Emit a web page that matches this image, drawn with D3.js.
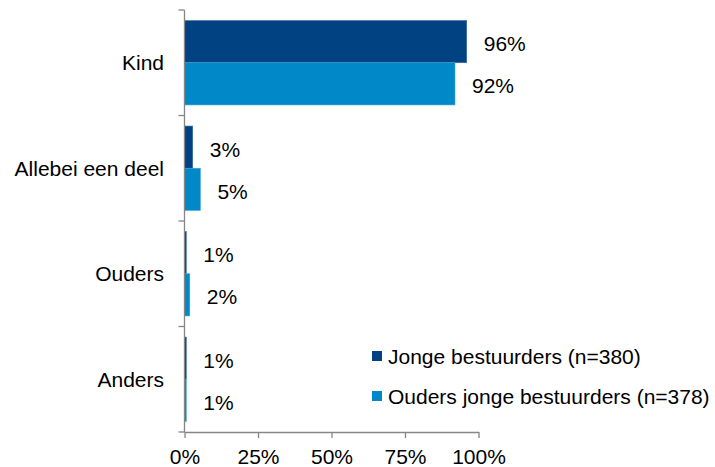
<!DOCTYPE html>
<html>
<head>
<meta charset="utf-8">
<script src="https://cdn.jsdelivr.net/npm/d3@7"></script>
<style>
  body { margin: 0; background: #fff; }
  svg { display: block; font-family: "Liberation Sans", Arial, sans-serif; }
</style>
</head>
<body>
<svg width="715" height="467"></svg>
<script>
'use strict'

const categories = ['Kind', 'Allebei een deel', 'Ouders', 'Anders'];
const seriesNames = ['Jonge bestuurders (n=380)', 'Ouders jonge bestuurders (n=378)'];
const jonge = [96, 2.8, 0.6, 0.6];
const ouders = [92, 5.4, 1.8, 0.6];
const xTicks = [0, 25, 50, 75, 100];
const colors = ['#004282', '#0088c8'];
const edges = ['#3c6da6', '#40a6d8'];

const FONT = 21;
const margin = { top: 10, left: 184.5 };
const W = 294;
const H = 422;

const svg = d3.select('svg');
const g = svg.append('g').attr('transform', `translate(${margin.left},${margin.top})`);

const x = d3.scaleLinear().domain([0, 100]).range([0, W]);
const y = d3.scaleBand().domain(categories).range([0, H]).paddingInner(0.2).paddingOuter(0.1);
const ySub = d3.scaleBand().domain([0, 1]).range([0, y.bandwidth()]);

const rows = categories.map((c, i) => ({ cat: c, vals: [jonge[i], ouders[i]] }));

const groups = g.selectAll('g.cat')
  .data(rows)
  .join('g')
  .attr('class', 'cat')
  .attr('transform', d => `translate(0,${y(d.cat)})`);

groups.selectAll('rect')
  .data(d => d.vals.map((v, s) => ({ v, s })))
  .join('rect')
  .attr('x', 0)
  .attr('y', d => ySub(d.s))
  .attr('width', d => x(d.v))
  .attr('height', ySub.bandwidth())
  .attr('fill', d => colors[d.s])
  .attr('stroke', d => edges[d.s])
  .attr('stroke-width', 0.6);

groups.selectAll('text.val')
  .data(d => d.vals.map((v, s) => ({ v, s })))
  .join('text')
  .attr('class', 'val')
  .attr('x', d => x(d.v) + 17)
  .attr('y', d => ySub(d.s) + ySub.bandwidth() / 2)
  .attr('dy', '0.45em')
  .attr('font-size', FONT)
  .attr('fill', '#000')
  .text(d => Math.round(d.v) + '%');

// category labels
g.selectAll('text.cat')
  .data(categories)
  .join('text')
  .attr('class', 'cat')
  .attr('x', -20.5)
  .attr('y', d => y(d) + y.bandwidth() / 2)
  .attr('dy', '0.35em')
  .attr('text-anchor', 'end')
  .attr('font-size', FONT)
  .attr('fill', '#000')
  .text(d => d);

// y axis line with ticks between categories
const axisColor = '#868686';
g.append('line')
  .attr('x1', 0).attr('x2', 0)
  .attr('y1', 0).attr('y2', H)
  .attr('stroke', axisColor).attr('stroke-width', 1.3);

const bounds = d3.range(categories.length + 1).map(i => i * y.step());
g.selectAll('line.ytick')
  .data(bounds)
  .join('line')
  .attr('class', 'ytick')
  .attr('x1', -6).attr('x2', 0)
  .attr('y1', d => d).attr('y2', d => d)
  .attr('stroke', axisColor).attr('stroke-width', 1.3);

// x axis
const xAxis = g.append('g')
  .attr('transform', `translate(0,${H})`)
  .call(d3.axisBottom(x).tickValues(xTicks).tickSize(6).tickSizeOuter(0).tickPadding(11).tickFormat(d => d + '%'));
xAxis.select('.domain').attr('stroke', axisColor).attr('stroke-width', 1.3);
xAxis.selectAll('.tick line').attr('stroke', axisColor).attr('stroke-width', 1.3);
xAxis.selectAll('.tick text')
  .attr('font-size', FONT)
  .attr('font-family', '"Liberation Sans", Arial, sans-serif')
  .attr('fill', '#000');

// legend
const legend = svg.append('g').attr('transform', 'translate(372,351)');
const items = legend.selectAll('g')
  .data(seriesNames)
  .join('g')
  .attr('transform', (d, i) => `translate(0,${i * 40})`);
items.append('rect')
  .attr('width', 10).attr('height', 10)
  .attr('fill', (d, i) => colors[i]);
items.append('text')
  .attr('x', 16)
  .attr('y', 13.3)
  .attr('font-size', FONT)
  .attr('fill', '#000')
  .text(d => d);
</script>
</body>
</html>
